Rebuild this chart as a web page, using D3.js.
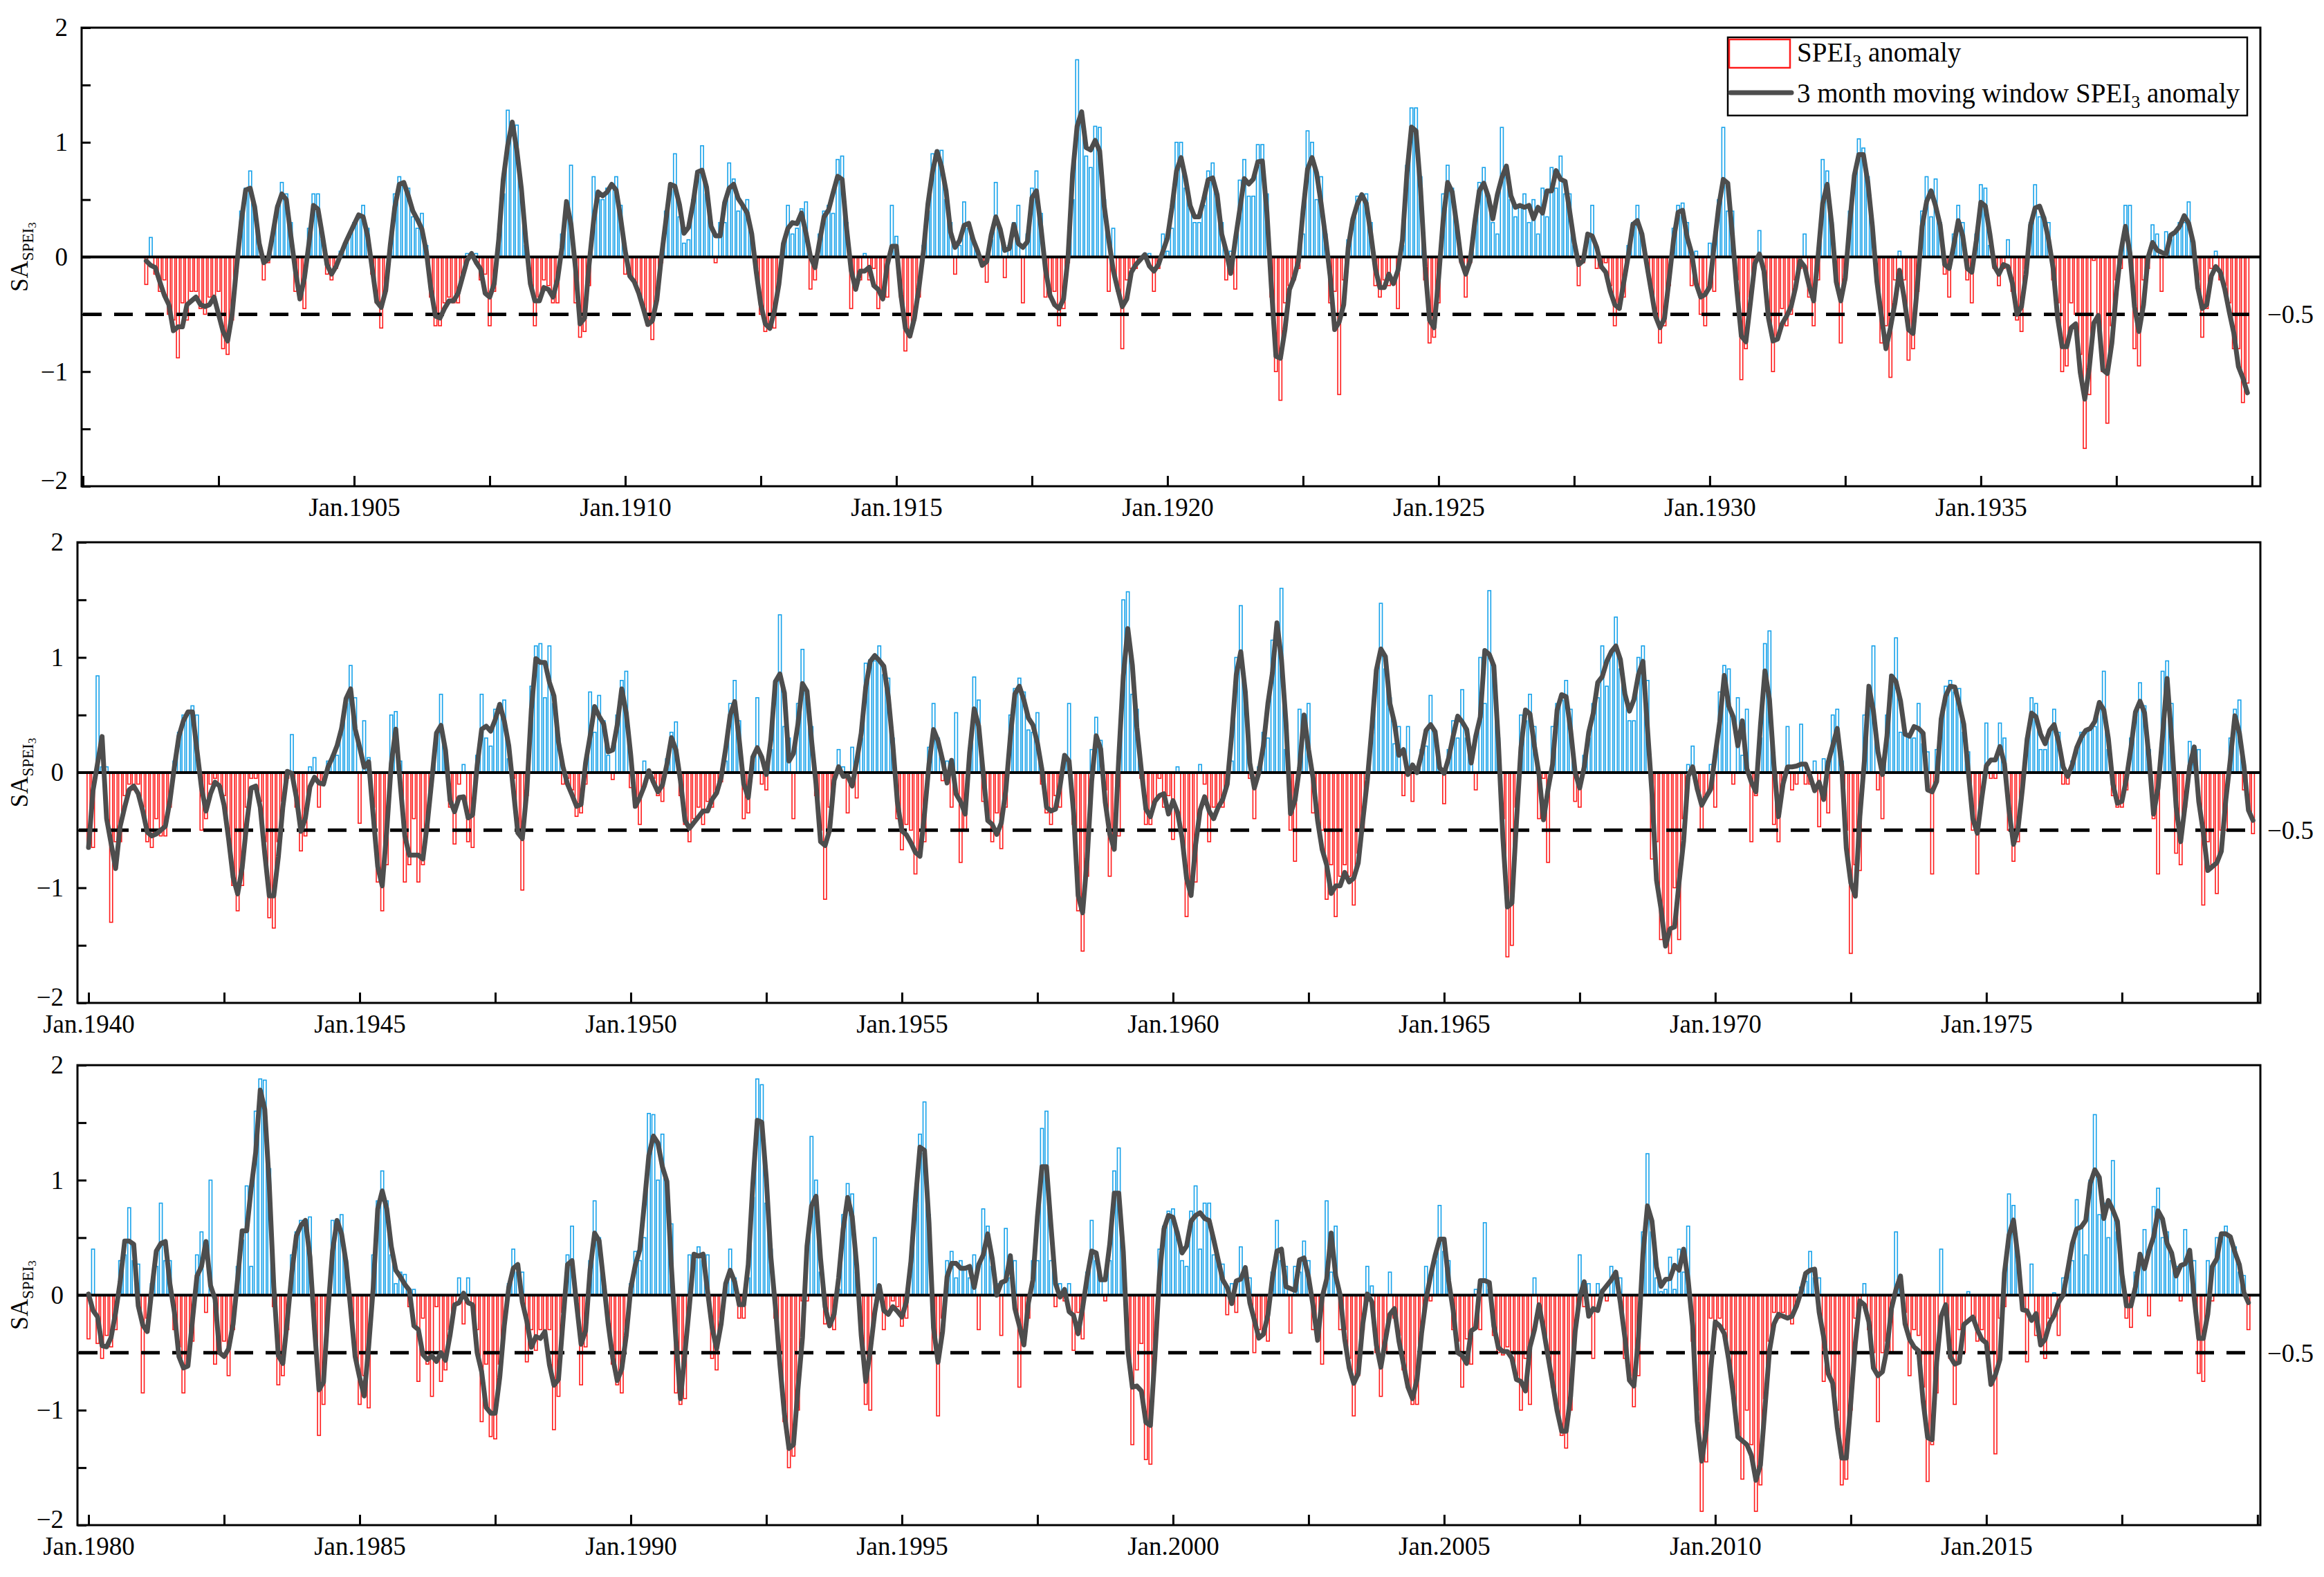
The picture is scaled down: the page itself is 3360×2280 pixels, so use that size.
<!DOCTYPE html>
<html>
<head>
<meta charset="utf-8">
<script src="https://cdn.jsdelivr.net/npm/d3@7"></script>
<style>
  html, body { margin: 0; padding: 0; background: #fff; }
  svg { display: block; font-family: "Liberation Serif", "Times New Roman", serif; }
</style>
</head>
<body>
<div id="chart"></div>
<script>
const width = 3360;
const height = 2280;

// monthly SPEI3 anomaly, one row per year (Jan..Dec)
const spei1900 = [
  null, null, null, null, null, null, null, null, null, null, null, null,
  null, null, -0.24, 0.17, -0.15, -0.3, -0.2, -0.5, -0.55, -0.88, -0.4, -0.55,
  -0.3, -0.3, -0.45, -0.5, -0.35, -0.4, -0.3, -0.8, -0.85, -0.55, -0.1, 0.4,
  0.6, 0.75, 0.45, 0.1, -0.2, -0.05, 0.2, 0.45, 0.65, 0.55, 0.3, -0.3,
  -0.35, -0.45, 0.25, 0.55, 0.55, 0.15, -0.15, -0.2, -0.1, 0.05, 0.1, 0.2,
  0.3, 0.35, 0.45, 0.25, -0.15, -0.4, -0.62, -0.3, 0.05, 0.55, 0.7, 0.65,
  0.6, 0.35, 0.25, 0.38, 0.1, -0.35, -0.6, -0.6, -0.4, -0.35, -0.4, -0.4,
  -0.15, 0.03, 0.03, 0.03, -0.2, -0.15, -0.6, -0.3, 0.2, 0.55, 1.28, 1.1,
  1.15, 0.55, 0.1, -0.2, -0.6, -0.35, -0.2, -0.25, -0.4, -0.4, 0.2, 0.45,
  0.8, -0.4, -0.7, -0.65, -0.25, 0.7, 0.5, 0.5, 0.6, 0.6, 0.7, 0.45,
  -0.15, -0.15, -0.2, -0.3, -0.45, -0.6, -0.72, -0.35, -0.05, 0.4, 0.6, 0.9,
  0.35, 0.12, 0.15, 0.5, 0.75, 0.97, 0.55, 0.3, -0.05, 0.3, 0.3, 0.82,
  0.68, 0.4, 0.45, 0.5, 0.2, -0.1, -0.5, -0.65, -0.6, -0.62, -0.2, 0.1,
  0.45, 0.2, 0.25, 0.42, 0.48, -0.28, -0.2, 0.2, 0.4, 0.45, 0.38, 0.85,
  0.88, 0.3, -0.45, -0.2, -0.2, 0.03, -0.2, -0.1, -0.45, -0.3, -0.35, 0.45,
  0.18, -0.35, -0.82, -0.7, -0.55, -0.35, 0.1, 0.4, 0.9, 0.93, 0.93, 0.5,
  0.3, -0.15, 0.1, 0.48, 0.25, 0.15, 0.05, -0.05, -0.22, 0.15, 0.65, 0.25,
  -0.18, 0.1, 0.3, 0.45, -0.4, 0.2, 0.6, 0.75, 0.38, -0.35, -0.35, -0.3,
  -0.6, -0.45, -0.05, 0.5, 1.72, 1.2, 0.88, 0.78, 1.14, 1.13, 0.5, -0.3,
  0.25, -0.3, -0.8, -0.2, -0.1, -0.1, 0.0, 0.03, 0.03, -0.3, -0.1, 0.2,
  0.05, 0.25, 1.0, 1.0, 0.6, 0.45, 0.3, 0.3, 0.45, 0.75, 0.82, 0.5,
  0.3, -0.2, 0.05, -0.28, 0.67, 0.85, 0.53, 0.53, 0.98, 0.98, 0.55, -0.35,
  -1.0, -1.25, -0.4, -0.25, -0.2, -0.1, 0.2, 1.1, 1.0, 0.5, 0.7, 0.2,
  -0.4, -0.3, -1.2, -0.2, 0.15, 0.3, 0.53, 0.55, 0.55, 0.3, -0.25, -0.35,
  -0.2, -0.25, 0.0, -0.45, 0.1, 0.8, 1.3, 1.3, 0.7, -0.2, -0.75, -0.7,
  -0.4, 0.55, 0.8, 0.6, 0.3, -0.05, -0.35, -0.05, 0.3, 0.65, 0.78, 0.5,
  0.3, 0.2, 1.13, 0.75, 0.5, 0.35, 0.45, 0.55, 0.3, 0.5, 0.2, 0.6,
  0.35, 0.78, 0.6, 0.88, 0.55, 0.55, 0.1, -0.25, -0.05, 0.2, 0.45, -0.1,
  -0.1, -0.05, -0.25, -0.6, -0.4, -0.35, 0.1, 0.3, 0.45, 0.2, -0.05, -0.3,
  -0.5, -0.75, -0.6, -0.25, 0.25, 0.45, 0.47, 0.3, -0.25, 0.05, -0.5, -0.6,
  0.12, -0.3, 0.5, 1.13, 0.4, 0.4, -0.2, -1.07, -0.8, -0.35, -0.05, 0.23,
  -0.1, -0.5, -1.0, -0.7, -0.45, -0.6, -0.5, -0.2, -0.1, 0.2, -0.35, -0.6,
  -0.2, 0.85, 0.75, 0.3, -0.2, -0.75, -0.2, 0.4, 0.7, 1.03, 0.95, 0.7,
  0.3, -0.2, -0.75, -0.6, -1.05, -0.2, 0.05, -0.2, -0.9, -0.8, -0.3, 0.4,
  0.7, 0.35, 0.68, 0.3, -0.15, -0.35, 0.2, 0.45, 0.3, -0.2, -0.4, 0.2,
  0.63, 0.6, 0.1, -0.1, -0.25, -0.1, 0.15, -0.3, -0.55, -0.65, -0.1, 0.3,
  0.63, 0.35, 0.35, 0.3, -0.2, -0.4, -1.0, -0.95, -0.4, -0.5, -0.85, -1.67,
  -1.2, -0.03, -0.5, -1.0, -1.45, -0.6, -0.2, -0.1, 0.45, 0.45, -0.8, -0.95,
  -0.2, -0.1, 0.28, 0.2, -0.3, 0.22, 0.15, 0.2, 0.3, 0.3, 0.48, 0.1,
  -0.2, -0.7, -0.45, -0.1, 0.05, -0.2, -0.25, -0.4, -0.8, -0.8, -1.27, -1.1
];

const spei1940 = [
  -0.65, -0.65, 0.84, 0.05, 0.05, -1.3, -0.6, -0.6, -0.2, -0.1, -0.15, -0.1,
  -0.3, -0.6, -0.65, -0.4, -0.55, -0.55, -0.3, 0.1, 0.35, 0.5, 0.5, 0.58,
  0.5, -0.5, -0.4, -0.1, -0.05, -0.1, -0.2, -0.55, -0.98, -1.2, -0.98, -0.3,
  -0.05, -0.05, -0.25, -0.6, -1.26, -1.35, -0.6, -0.25, -0.05, 0.33, -0.3, -0.68,
  -0.55, 0.05, 0.13, -0.3, -0.1, 0.1, 0.15, 0.15, 0.4, 0.6, 0.93, 0.65,
  -0.44, 0.45, 0.13, -0.3, -0.95, -1.2, -0.8, 0.5, 0.53, 0.1, -0.95, -0.8,
  -0.4, -0.95, -0.8, -0.5, 0.0, 0.35, 0.68, 0.2, -0.3, -0.62, -0.1, 0.07,
  -0.6, -0.65, 0.15, 0.68, 0.3, 0.23, 0.55, 0.6, 0.63, 0.12, -0.05, -0.5,
  -1.02, -0.2, 0.75, 1.1, 1.12, 0.65, 1.1, 0.6, 0.3, -0.1, -0.05, -0.15,
  -0.38, -0.35, -0.1, 0.7, 0.35, 0.67, 0.45, 0.15, -0.06, 0.5, 0.8, 0.88,
  -0.13, -0.3, -0.45, 0.1, 0.0, -0.05, -0.2, -0.25, 0.12, 0.35, 0.44, -0.2,
  -0.45, -0.6, -0.4, -0.3, -0.45, -0.25, -0.3, -0.15, -0.08, 0.1, 0.6, 0.8,
  0.45, -0.4, -0.35, 0.1, 0.65, -0.1, -0.15, 0.2, 0.8, 1.37, 0.4, 0.3,
  -0.4, 0.6, 1.07, 0.65, 0.4, -0.2, -0.5, -1.1, -0.3, -0.1, 0.2, 0.05,
  -0.35, 0.22, -0.22, 0.3, 0.95, 0.98, 0.97, 1.1, 0.85, 0.82, 0.3, -0.4,
  -0.67, -0.45, -0.5, -0.88, -0.7, -0.6, 0.22, 0.6, 0.3, -0.07, 0.1, -0.3,
  0.52, -0.78, -0.5, 0.2, 0.83, 0.63, -0.25, -0.4, -0.6, -0.35, -0.66, -0.3,
  0.5, 0.73, 0.82, 0.7, 0.37, 0.35, 0.52, -0.1, -0.35, -0.45, -0.2, -0.3,
  0.15, 0.6, -0.45, -1.2, -1.55, -0.9, 0.2, 0.48, 0.28, -0.15, -0.9, -0.55,
  -0.55, 1.5, 1.57, 0.68, 0.55, -0.05, -0.45, -0.45, -0.25, -0.05, -0.3, -0.2,
  -0.58, 0.05, -0.5, -1.25, -1.0, -0.95, 0.07, -0.1, -0.6, -0.3, -0.3, -0.3,
  -0.1, 0.1, 1.0, 1.45, 0.7, -0.05, -0.4, 0.05, 0.35, 0.3, 1.15, 1.15,
  1.6, 0.2, -0.5, -0.77, 0.55, 0.35, 0.6, -0.35, -0.4, -0.5, -1.1, -0.8,
  -1.25, -0.9, -0.8, -0.9, -1.15, -0.7, -0.5, -0.05, 0.35, 0.85, 1.47, 0.9,
  0.65, 0.25, 0.4, -0.2, 0.4, -0.25, 0.05, 0.2, 0.23, 0.67, 0.35, 0.05,
  -0.27, 0.2, 0.45, 0.3, 0.72, 0.3, 0.1, -0.15, 1.0, 0.6, 1.58, 0.9,
  0.3, -0.4, -1.6, -1.5, -0.3, 0.5, 0.45, 0.68, 0.4, -0.4, -0.05, -0.78,
  0.4, 0.6, 0.63, 0.8, 0.55, -0.25, -0.3, 0.15, 0.3, 0.6, 0.65, 1.1,
  0.75, 1.05, 1.35, 0.9, 0.7, 0.45, 0.45, 1.0, 1.1, 0.8, -0.75, -0.6,
  -1.45, -1.5, -1.57, -1.0, -1.45, -0.4, 0.07, 0.23, -0.15, -0.5, -0.2, 0.07,
  -0.3, 0.7, 0.93, 0.9, -0.1, 0.65, 0.15, 0.55, -0.6, -0.2, 0.3, 1.12,
  1.23, -0.45, -0.6, -0.1, 0.4, -0.15, -0.1, 0.42, -0.1, -0.1, 0.1, -0.47,
  0.12, -0.35, 0.5, 0.55, 0.1, -0.5, -1.57, -0.8, -0.85, 0.5, 0.65, 1.1,
  -0.15, -0.4, 0.5, 0.85, 1.17, 0.35, 0.35, 0.3, 0.3, 0.6, 0.25, 0.18,
  -0.88, 0.2, 0.45, 0.75, 0.8, 0.7, 0.73, 0.35, 0.18, -0.5, -0.88, -0.2,
  0.43, -0.05, -0.05, 0.43, 0.3, -0.5, -0.77, -0.6, -0.1, 0.3, 0.65, 0.6,
  0.2, 0.2, 0.35, 0.55, 0.35, -0.1, -0.1, 0.1, 0.2, 0.35, 0.37, 0.38,
  0.4, 0.55, 0.88, 0.2, -0.2, -0.3, -0.3, -0.15, 0.3, 0.5, 0.78, 0.58,
  0.2, -0.4, -0.88, 0.88, 0.97, 0.6, -0.7, -0.8, -0.3, 0.27, 0.2, 0.2,
  -1.15, -0.6, -0.8, -1.05, -0.5, -0.5, 0.3, 0.55, 0.63, -0.15, -0.3, -0.53
];

const spei1980 = [
  -0.38, 0.4, -0.42, -0.55, -0.35, -0.45, -0.3, 0.3, 0.35, 0.76, 0.3, 0.27,
  -0.85, -0.2, 0.1, 0.25, 0.8, 0.3, 0.3, -0.3, -0.45, -0.85, -0.6, -0.4,
  0.35, 0.55, -0.15, 1.0, -0.6, -0.5, -0.4, -0.7, -0.3, 0.25, 0.48, 0.95,
  0.25, 1.6, 1.88, 1.87, 1.1, -0.1, -0.78, -0.7, -0.3, 0.35, 0.55, 0.65,
  0.62, 0.68, -0.3, -1.22, -0.95, -0.1, 0.65, 0.6, 0.7, 0.3, -0.15, -0.5,
  -0.95, -0.7, -0.98, 0.35, 0.82, 1.08, 0.82, 0.35, 0.1, 0.2, 0.18, -0.1,
  0.05, -0.75, -0.2, -0.6, -0.88, -0.1, -0.75, -0.65, -0.3, -0.1, 0.15, -0.25,
  0.15, -0.1, -0.3, -1.1, -0.6, -1.23, -1.25, -0.6, -0.3, 0.1, 0.4, 0.2,
  0.2, -0.58, -0.3, -0.48, -0.3, -0.35, -0.3, -1.17, -0.88, -0.15, 0.35, 0.6,
  -0.05, -0.78, -0.45, 0.3, 0.82, 0.5, 0.1, -0.25, -0.6, -0.78, -0.85, -0.3,
  0.1, 0.38, 0.3, 0.5, 1.58, 1.57, 1.0, 1.4, 0.95, 0.62, -0.85, -0.95,
  -0.9, 0.35, 0.3, 0.42, 0.3, 0.35, -0.55, -0.65, -0.2, 0.1, 0.4, 0.15,
  -0.2, -0.2, 0.15, 0.85, 1.88, 1.83, 0.8, 0.4, -0.2, -0.5, -1.1, -1.5,
  -1.4, -1.0, -0.05, -0.05, 1.38, 1.0, 0.2, -0.25, -0.25, -0.3, 0.05, 0.7,
  0.97, 0.88, 0.2, -0.3, -0.95, -1.0, 0.5, 0.05, -0.3, -0.15, -0.05, -0.1,
  -0.27, -0.2, 0.3, 0.78, 1.4, 1.68, 0.7, -0.5, -1.05, -0.2, 0.3, 0.38,
  0.15, 0.3, 0.25, 0.15, 0.35, -0.3, 0.75, 0.6, 0.25, 0.1, -0.35, 0.58,
  0.15, 0.3, -0.8, -0.3, -0.2, 0.3, 0.3, 1.45, 1.6, 0.3, -0.1, 0.1,
  -0.05, 0.1, -0.48, -0.15, -0.38, 0.2, 0.65, 0.3, 0.15, -0.05, 0.3, 1.08,
  1.28, 0.3, -0.45, -1.3, -0.65, -0.42, -1.43, -1.47, -0.5, 0.4, 0.6, 0.73,
  0.75, 0.55, 0.3, 0.25, 0.73, 0.95, 0.4, 0.8, 0.8, 0.35, 0.3, 0.27,
  -0.17, 0.1, -0.15, 0.42, 0.15, 0.15, -0.5, -0.3, -0.32, -0.4, 0.2, 0.65,
  0.3, 0.25, -0.33, 0.25, 0.2, 0.47, 0.3, -0.3, -0.28, -0.6, 0.82, 0.2,
  0.6, -0.3, -0.3, -0.55, -1.05, -0.7, -0.3, 0.25, 0.08, -0.5, -0.88, -0.5,
  0.2, -0.2, -0.35, -0.65, -0.8, -0.95, -0.95, -0.3, 0.25, -0.05, 0.3, 0.78,
  0.38, 0.3, -0.3, -0.4, -0.8, -0.38, -0.6, 0.05, -0.3, 0.63, 0.05, -0.35,
  -0.5, -0.52, -0.45, -0.5, -0.7, -1.0, -0.55, -0.95, 0.15, -0.1, -0.3, -0.5,
  -0.8, -1.0, -1.22, -1.33, -1.0, -0.3, 0.35, -0.1, 0.1, -0.55, 0.1, 0.05,
  -0.05, 0.25, 0.2, 0.15, -0.55, -0.7, -0.97, -0.7, 0.55, 1.23, 0.55, 0.15,
  0.03, 0.05, 0.33, 0.05, 0.4, 0.2, 0.6, -0.4, -1.0, -1.88, -1.45, -0.2,
  -0.3, -0.2, -0.3, -0.5, -0.9, -1.2, -1.6, -1.0, -1.3, -1.88, -1.65, -0.9,
  -0.4, -0.15, -0.2, -0.15, -0.2, -0.25, -0.1, 0.07, 0.12, 0.38, 0.15, 0.15,
  -0.75, -0.5, -0.8, -1.0, -1.65, -1.6, -1.0, -0.2, -0.05, 0.1, -0.3, -0.5,
  -1.1, -0.5, -0.4, -0.5, 0.55, 0.1, -0.15, -0.7, -0.3, -0.35, -0.8, -1.62,
  -1.3, -0.85, 0.4, -0.1, -0.55, -0.95, -0.3, -0.5, 0.03, -0.2, -0.4, -0.3,
  -0.45, -0.5, -1.38, -0.2, -0.1, 0.88, 0.78, 0.3, -0.1, -0.58, 0.27, -0.35,
  -0.4, -0.55, -0.2, 0.02, -0.35, 0.15, 0.2, 0.3, 0.83, 0.6, 0.35, 1.0,
  1.57, 0.7, 0.8, 0.5, 1.17, 0.55, 0.2, -0.2, -0.28, 0.2, 0.3, 0.57,
  -0.18, 0.77, 0.93, 0.5, 0.55, 0.3, 0.25, -0.05, 0.57, 0.3, 0.3, -0.68,
  -0.75, 0.3, -0.05, 0.5, 0.5, 0.6, 0.5, 0.42, 0.2, 0.17, -0.3, null
];

const labels1900 = ["Jan.1905", "Jan.1910", "Jan.1915", "Jan.1920", "Jan.1925", "Jan.1930", "Jan.1935"];
const labels1940 = ["Jan.1940", "Jan.1945", "Jan.1950", "Jan.1955", "Jan.1960", "Jan.1965", "Jan.1970", "Jan.1975"];
const labels1980 = ["Jan.1980", "Jan.1985", "Jan.1990", "Jan.1995", "Jan.2000", "Jan.2005", "Jan.2010", "Jan.2015"];

const yTicks = [-2, -1.5, -1, -0.5, 0, 0.5, 1, 1.5, 2];
const droughtLevel = -0.5;

const panels = [
  { data: spei1900, start: 1900, labels: labels1900, top: 40, bottom: 703, left: 118, x0: 120 },
  { data: spei1940, start: 1940, labels: labels1940, top: 784, bottom: 1450, left: 112, x0: 128 },
  { data: spei1980, start: 1980, labels: labels1980, top: 1540, bottom: 2205, left: 112, x0: 128 }
];
const right = 3268;
const monthPx = 6.533;

const blue = "#17a2ea";
const red = "#ff1a1a";
const grey = "#4d4d4d";

const svg = d3.select("#chart")
  .append("svg")
  .attr("width", width)
  .attr("height", height);

svg.append("rect").attr("width", width).attr("height", height).attr("fill", "#fff");

// 3 month moving window, centred
function movingWindow(vals) {
  return vals.map((v, i) => {
    if (v == null) return null;
    const w = [vals[i - 1], v, vals[i + 1]].filter(d => d != null);
    return d3.mean(w);
  });
}

const minus = d => (d < 0 ? "\u2212" + Math.abs(d) : String(d));

panels.forEach((p, pi) => {
  const g = svg.append("g");

  const x = d3.scaleLinear()
    .domain([0, 480])
    .range([p.x0, p.x0 + 480 * monthPx]);

  const y = d3.scaleLinear()
    .domain([-2, 2])
    .range([p.bottom, p.top]);

  const rows = p.data.map((v, k) => ({ k, v }));
  const bw = 4.2;

  // bars
  g.append("g")
    .selectAll("rect")
    .data(rows.filter(d => d.v != null))
    .enter()
    .append("rect")
    .attr("x", d => x(d.k) - bw / 2)
    .attr("y", d => (d.v > 0 ? y(d.v) : y(0)))
    .attr("width", bw)
    .attr("height", d => Math.abs(y(d.v) - y(0)))
    .attr("fill", "none")
    .attr("stroke", d => (d.v > 0 ? blue : red))
    .attr("stroke-width", 1.6);

  // zero line
  g.append("line")
    .attr("x1", p.left).attr("x2", right)
    .attr("y1", y(0)).attr("y2", y(0))
    .attr("stroke", "#000")
    .attr("stroke-width", 4);

  // drought threshold
  g.append("line")
    .attr("x1", p.left + 2).attr("x2", right - 8)
    .attr("y1", y(droughtLevel)).attr("y2", y(droughtLevel))
    .attr("stroke", "#000")
    .attr("stroke-width", 5)
    .attr("stroke-dasharray", "27 18");

  // moving window line
  const ma = movingWindow(p.data).map((m, k) => ({ k, m }));
  const line = d3.line()
    .defined(d => d.m != null)
    .x(d => x(d.k))
    .y(d => y(d.m));

  g.append("path")
    .datum(ma)
    .attr("d", line)
    .attr("fill", "none")
    .attr("stroke", grey)
    .attr("stroke-width", 7)
    .attr("stroke-linejoin", "round")
    .attr("stroke-linecap", "round");

  // axes
  const labelAt = new Map(p.labels.map(l => [(+l.slice(4) - p.start) * 12, l]));

  const xAxis = d3.axisBottom(x)
    .tickValues(d3.range(0, 481, 30))
    .tickSize(-15)
    .tickPadding(17)
    .tickFormat(m => labelAt.get(m) || "");

  const ax = g.append("g")
    .attr("transform", `translate(0,${p.bottom})`)
    .call(xAxis);
  ax.select(".domain").remove();
  ax.selectAll("line").attr("stroke", "#000").attr("stroke-width", 3);
  ax.selectAll("text")
    .attr("fill", "#000")
    .style("font-family", "Liberation Serif")
    .style("font-size", "37px");

  const yAxis = d3.axisLeft(y)
    .tickValues(yTicks)
    .tickSize(-13)
    .tickPadding(20)
    .tickFormat(d => (Number.isInteger(d) ? minus(d) : ""));

  const ay = g.append("g")
    .attr("transform", `translate(${p.left},0)`)
    .call(yAxis);
  ay.select(".domain").remove();
  ay.selectAll("line").attr("stroke", "#000").attr("stroke-width", 3);
  ay.selectAll("text")
    .attr("fill", "#000")
    .style("font-family", "Liberation Serif")
    .style("font-size", "37px");
  // keep the lowest label clear of the first date label below it
  ay.selectAll(".tick").filter(d => d === -2).select("text").attr("dy", "0.1em");

  // frame
  g.append("rect")
    .attr("x", p.left).attr("y", p.top)
    .attr("width", right - p.left).attr("height", p.bottom - p.top)
    .attr("fill", "none")
    .attr("stroke", "#000")
    .attr("stroke-width", 3);

  // right label for threshold
  g.append("text")
    .attr("x", right + 10)
    .attr("y", y(droughtLevel) + 13)
    .attr("font-size", 37)
    .text(minus(droughtLevel));

  // y title
  const t = g.append("text")
    .attr("transform", `translate(40,${(p.top + p.bottom) / 2}) rotate(-90)`)
    .attr("text-anchor", "middle")
    .attr("font-size", 35);
  t.append("tspan").text("SA");
  t.append("tspan").attr("font-size", 23).attr("dy", 8).text("SPEI");
  t.append("tspan").attr("font-size", 17).attr("dy", 4).text("3");

  // legend (top panel only)
  if (pi === 0) {
    const lg = g.append("g");
    lg.append("rect")
      .attr("x", 2498).attr("y", 54)
      .attr("width", 751).attr("height", 113)
      .attr("fill", "#fff")
      .attr("stroke", "#000")
      .attr("stroke-width", 2.5);

    lg.append("rect")
      .attr("x", 2500).attr("y", 57)
      .attr("width", 88).attr("height", 41)
      .attr("fill", "none")
      .attr("stroke", red)
      .attr("stroke-width", 2.5);

    const t1 = lg.append("text").attr("x", 2598).attr("y", 89).attr("font-size", 39);
    t1.append("tspan").text("SPEI");
    t1.append("tspan").attr("font-size", 26).attr("dy", 8).text("3");
    t1.append("tspan").attr("dy", -8).text(" anomaly");

    lg.append("line")
      .attr("x1", 2502).attr("x2", 2590)
      .attr("y1", 134).attr("y2", 134)
      .attr("stroke", grey)
      .attr("stroke-width", 7)
      .attr("stroke-linecap", "round");

    const t2 = lg.append("text").attr("x", 2598).attr("y", 148).attr("font-size", 39);
    t2.append("tspan").text("3 month moving window SPEI");
    t2.append("tspan").attr("font-size", 26).attr("dy", 8).text("3");
    t2.append("tspan").attr("dy", -8).text(" anomaly");
  }
});
</script>
</body>
</html>
